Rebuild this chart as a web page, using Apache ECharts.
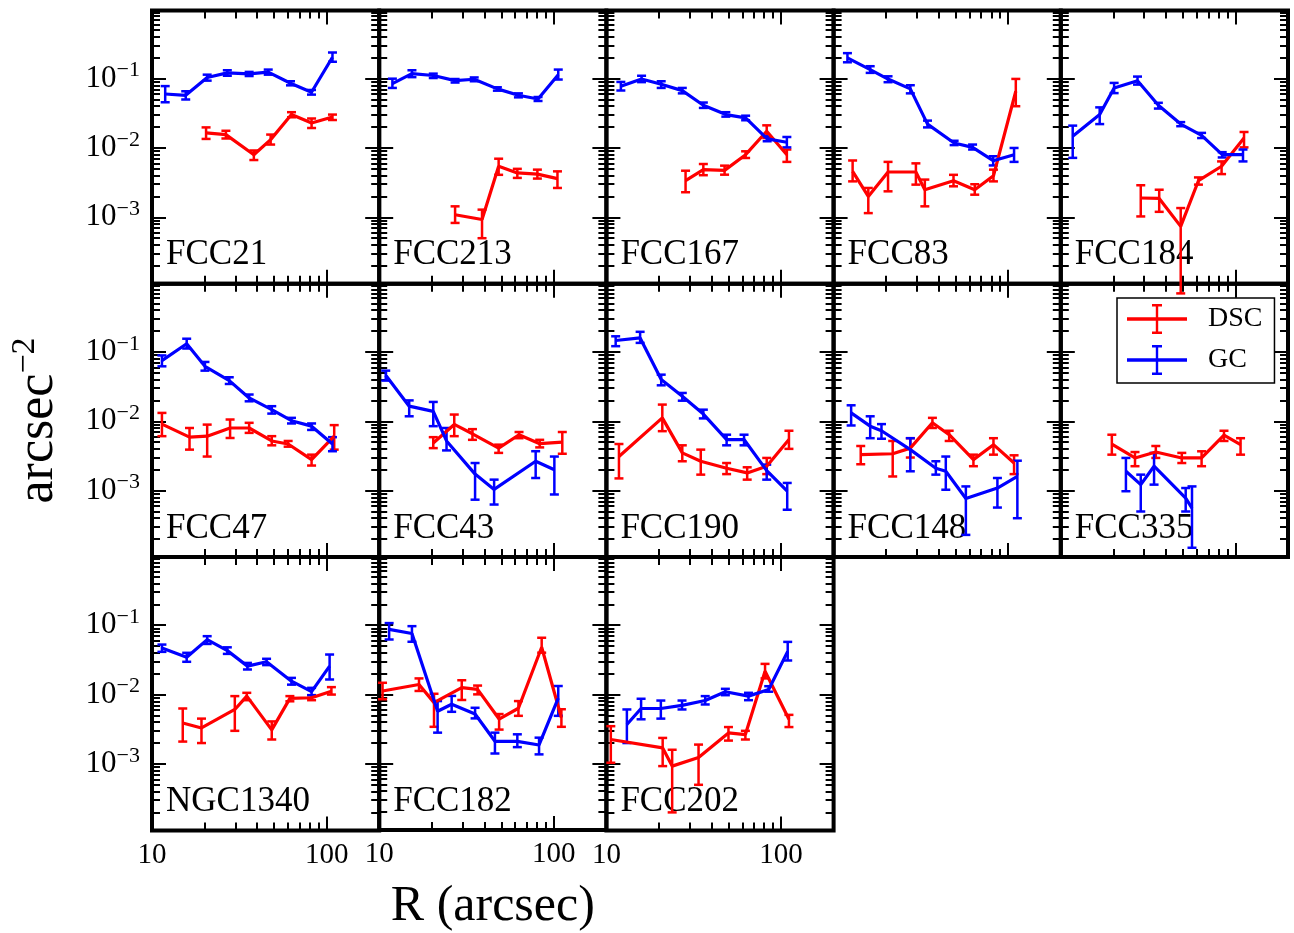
<!DOCTYPE html>
<html>
<head>
<meta charset="utf-8">
<script src="https://cdn.jsdelivr.net/npm/echarts@6/dist/echarts.min.js"></script>
<style>
html, body { margin: 0; padding: 0; background: #fff; }
#chart { width: 1294px; height: 933px; }
</style>
</head>
<body>
<div id="chart"></div>
<script>
// each row: [R (arcsec), value, lower end of error bar, upper end of error bar]
const FCC21_DSC = [[20.4,0.0165,0.0135,0.0198],[26.5,0.0156,0.0137,0.0177],[38.3,0.0080,0.0067,0.0092],[47.8,0.0132,0.0112,0.0156],[62.9,0.0303,0.0277,0.0328],[82,0.0229,0.0194,0.0266],[108,0.028,0.0253,0.0303]];
const FCC21_GC = [[11.9,0.060,0.0456,0.078],[15.6,0.0575,0.050,0.0657],[20.7,0.104,0.0935,0.114],[27.0,0.121,0.110,0.132],[36.0,0.117,0.109,0.125],[46.3,0.124,0.114,0.135],[62.1,0.0857,0.080,0.0916],[81.9,0.0637,0.0588,0.0686],[108,0.203,0.175,0.238]];
const FCC213_DSC = [[27.2,0.00109,0.00083,0.00144],[38.8,0.00093,0.00050,0.00129],[48.3,0.00545,0.0041,0.0070],[61.8,0.00436,0.0037,0.005],[80.5,0.0042,0.00362,0.00487],[104.9,0.00362,0.00265,0.0046]];
const FCC213_GC = [[11.9,0.0846,0.0734,0.0998],[15.4,0.118,0.105,0.132],[20.4,0.111,0.102,0.118],[27.2,0.0935,0.0878,0.0987],[35,0.098,0.0916,0.104],[47.5,0.0711,0.067,0.075],[62.7,0.0575,0.0537,0.0613],[81.2,0.0509,0.0476,0.0543],[106,0.114,0.097,0.135]];
const FCC167_DSC = [[28.4,0.00337,0.0023,0.0047],[35.9,0.00486,0.00405,0.00587],[47.5,0.00475,0.00412,0.00556],[62.7,0.0080,0.00717,0.00895],[82.8,0.0174,0.0139,0.0212],[108,0.0080,0.0063,0.0095]];
const FCC167_GC = [[12.1,0.0776,0.0674,0.0896],[15.9,0.0986,0.089,0.110],[20.6,0.083,0.0734,0.0916],[27.2,0.0671,0.0613,0.0734],[35.9,0.0413,0.0378,0.0452],[48.3,0.0303,0.0283,0.0328],[62.7,0.0271,0.0251,0.0292],[83.3,0.0135,0.0125,0.0147],[108,0.0121,0.0102,0.0144]];
const FCC83_DSC = [[12.85,0.0046,0.0033,0.0066],[15.8,0.0020,0.00115,0.00265],[20.5,0.0045,0.00237,0.0063],[29.6,0.0045,0.00296,0.006],[33.3,0.0025,0.00144,0.0035],[48.6,0.00337,0.0028,0.0041],[64.3,0.0025,0.00212,0.003],[82.3,0.00397,0.0033,0.00487],[110.5,0.0657,0.040,0.099]];
const FCC83_GC = [[12.0,0.199,0.172,0.233],[16.2,0.135,0.121,0.151],[20.5,0.0986,0.0888,0.108],[27.5,0.0711,0.0613,0.0803],[34.5,0.0221,0.0198,0.0248],[49,0.0118,0.011,0.0127],[62.5,0.0102,0.0095,0.0112],[82,0.00655,0.0056,0.0076],[108,0.0080,0.0063,0.010]];
const FCC184_DSC = [[28.7,0.0019,0.00103,0.0029],[36.6,0.00187,0.0012,0.0025],[48.6,0.00074,0.00008,0.00136],[61.4,0.00337,0.00296,0.00376],[83.3,0.00545,0.0042,0.0064],[112,0.0139,0.0102,0.0170]];
const FCC184_GC = [[11.7,0.0147,0.0072,0.021],[16.7,0.0303,0.0221,0.0385],[20.2,0.0734,0.0618,0.0867],[27.5,0.0934,0.082,0.107],[36.2,0.0413,0.037,0.0448],[48.6,0.0221,0.0206,0.0236],[64,0.0152,0.0139,0.0165],[84,0.0080,0.0073,0.0087],[110.5,0.0080,0.0064,0.0095]];
const FCC47_DSC = [[11.4,0.0091,0.0061,0.0132],[16.4,0.0059,0.0039,0.0080],[20.7,0.0061,0.0031,0.00895],[28,0.0080,0.00574,0.0106],[36,0.0080,0.0068,0.0095],[48.5,0.0052,0.0045,0.0061],[60.2,0.0047,0.0043,0.0052],[82,0.0028,0.0023,0.0033],[110.5,0.0061,0.0039,0.0088]];
const FCC47_GC = [[11.4,0.075,0.062,0.089],[15.8,0.131,0.112,0.155],[20.1,0.062,0.0537,0.0717],[27.7,0.0386,0.0345,0.0431],[36,0.0217,0.0194,0.0243],[48.5,0.0147,0.0129,0.0165],[62.9,0.0102,0.0093,0.0112],[82,0.0085,0.0075,0.0093],[108,0.0047,0.0037,0.0059]];
const FCC43_DSC = [[20.4,0.00486,0.0041,0.0059],[26.9,0.0090,0.0061,0.0125],[34.2,0.0066,0.0054,0.0077],[48.3,0.0041,0.0035,0.0046],[63.2,0.0064,0.0057,0.0070],[83,0.00475,0.0042,0.0054],[111.8,0.005,0.0034,0.0070]];
const FCC43_GC = [[10.9,0.046,0.0386,0.0537],[14.85,0.0165,0.0118,0.020],[20.4,0.0139,0.0085,0.019],[24.3,0.0052,0.0038,0.0080],[35.4,0.00173,0.00074,0.0025],[45.5,0.00104,0.00063,0.00144],[78.7,0.00265,0.00152,0.0037],[100.7,0.0020,0.00088,0.0031]];
const FCC190_DSC = [[11.8,0.0031,0.0015,0.0047],[20.9,0.0112,0.0072,0.0174],[27.2,0.0035,0.00265,0.0045],[34.7,0.00265,0.0017,0.0039],[48.8,0.0021,0.00173,0.0025],[64,0.0018,0.00144,0.00217],[82.8,0.00225,0.00173,0.00296],[111,0.00545,0.0040,0.0073]];
const FCC190_GC = [[11.3,0.146,0.121,0.168],[15.6,0.159,0.135,0.195],[20.6,0.040,0.033,0.047],[27.2,0.023,0.0198,0.0256],[35.9,0.0127,0.011,0.0147],[48.8,0.00545,0.0045,0.0064],[61.4,0.00545,0.0045,0.0064],[82.8,0.00194,0.00144,0.00237],[108.5,0.00098,0.00053,0.00129]];
const FCC148_DSC = [[14.3,0.0033,0.0024,0.0044],[21.8,0.0034,0.0016,0.0052],[27.5,0.0041,0.0030,0.0057],[36.8,0.0095,0.0080,0.0112],[45.9,0.0064,0.0052,0.0073],[63.2,0.0028,0.00225,0.0033],[82.3,0.0046,0.0033,0.0057],[108,0.0025,0.00173,0.00323]];
const FCC148_GC = [[12.6,0.0132,0.0087,0.0170],[16.2,0.0085,0.0057,0.0118],[18.8,0.0073,0.0056,0.0091],[27.5,0.0039,0.0019,0.0057],[38.5,0.0021,0.0017,0.00265],[43.9,0.0019,0.00103,0.0031],[57.2,0.00077,0.00023,0.00115],[86.7,0.00109,0.00057,0.00152],[112.8,0.0016,0.0004,0.0027]];
const FCC335_DSC = [[19.6,0.0047,0.0033,0.0064],[26.6,0.00296,0.00225,0.0036],[35,0.0036,0.00296,0.0044],[49.3,0.00296,0.0025,0.0035],[64,0.00296,0.00225,0.00369],[86,0.0063,0.0052,0.0073],[107,0.0046,0.0033,0.0057]];
const FCC335_GC = [[23.6,0.0019,0.00098,0.00296],[28.7,0.00122,0.0005,0.0017],[34.2,0.00225,0.00122,0.0035],[51.9,0.00078,0.0005,0.00109],[56.4,0.00056,0.00015,0.00115]];
const NGC1340_DSC = [[15,0.0039,0.0021,0.0063],[19.2,0.0033,0.0020,0.0045],[29.8,0.0061,0.0030,0.0095],[34.9,0.0095,0.0083,0.0106],[48.5,0.0031,0.00225,0.0041],[61.6,0.0088,0.0080,0.0095],[82,0.0090,0.0083,0.0098],[106.5,0.0112,0.010,0.0128]];
const NGC1340_GC = [[11.4,0.047,0.0413,0.0526],[15.8,0.0345,0.0297,0.040],[20.7,0.062,0.0537,0.0695],[27,0.043,0.0386,0.048],[35.2,0.0257,0.023,0.0286],[45.3,0.0297,0.0266,0.0328],[62.9,0.0156,0.0139,0.0174],[82,0.0110,0.0098,0.0125],[104,0.0257,0.0165,0.0378]];
const FCC182_DSC = [[10.45,0.0112,0.0085,0.0147],[16.9,0.0139,0.0112,0.0170],[20.6,0.0076,0.0034,0.0102],[29.7,0.0125,0.0083,0.016],[36.6,0.0118,0.010,0.0134],[48.6,0.0044,0.0031,0.0052],[62.7,0.0063,0.0049,0.008],[85.2,0.048,0.040,0.0657],[110.5,0.0046,0.0034,0.0061]];
const FCC182_GC = [[11.4,0.0868,0.062,0.107],[15.4,0.0758,0.0575,0.0966],[21.6,0.0057,0.0028,0.0080],[26,0.0072,0.0056,0.0095],[35.4,0.0052,0.0045,0.0064],[46,0.0021,0.0014,0.0028],[61.8,0.0021,0.00173,0.00265],[82.3,0.00186,0.00136,0.00237],[106,0.0088,0.0049,0.0132]];
const FCC202_DSC = [[10.6,0.00225,0.00104,0.0035],[21,0.0017,0.00093,0.00237],[23.8,0.00093,0.00020,0.0016],[33.7,0.00124,0.00050,0.0019],[50,0.0028,0.00217,0.0034],[62.5,0.00265,0.00225,0.003],[81,0.0217,0.0171,0.0277],[111,0.0044,0.0034,0.0051]];
const FCC202_GC = [[13.1,0.0037,0.0020,0.0061],[15.8,0.0063,0.0044,0.0087],[20.5,0.0063,0.0045,0.0082],[27.1,0.0070,0.0061,0.0082],[36.8,0.0082,0.0072,0.0095],[48,0.0110,0.0098,0.0121],[65.1,0.0095,0.0083,0.0106],[85,0.0118,0.0110,0.0132],[109.2,0.042,0.031,0.0575]];

const panels = [
    ['FCC21', FCC21_DSC, FCC21_GC], ['FCC213', FCC213_DSC, FCC213_GC], ['FCC167', FCC167_DSC, FCC167_GC],
    ['FCC83', FCC83_DSC, FCC83_GC], ['FCC184', FCC184_DSC, FCC184_GC],
    ['FCC47', FCC47_DSC, FCC47_GC], ['FCC43', FCC43_DSC, FCC43_GC], ['FCC190', FCC190_DSC, FCC190_GC],
    ['FCC148', FCC148_DSC, FCC148_GC], ['FCC335', FCC335_DSC, FCC335_GC],
    ['NGC1340', NGC1340_DSC, NGC1340_GC], ['FCC182', FCC182_DSC, FCC182_GC], ['FCC202', FCC202_DSC, FCC202_GC]
];

// tick values
const xMajorTicks = [10, 100];
const xMinorTicks = [20, 30, 40, 50, 60, 70, 80, 90, 200];
const yMajorTicks = [1e-1, 1e-2, 1e-3];
const yMinorTicks = [2e-4, 3e-4, 4e-4, 5e-4, 6e-4, 7e-4, 8e-4, 9e-4,
    2e-3, 3e-3, 4e-3, 5e-3, 6e-3, 7e-3, 8e-3, 9e-3,
    2e-2, 3e-2, 4e-2, 5e-2, 6e-2, 7e-2, 8e-2, 9e-2,
    2e-1, 3e-1, 4e-1, 5e-1, 6e-1, 7e-1, 8e-1, 9e-1];

const X_MIN = 10, X_MAX = 200;
const Y_MIN = 1.1e-4, Y_MAX = 0.96;

const RED = '#ff0000', BLUE = '#0000ff';
const SERIF = '"Liberation Serif", "DejaVu Serif", serif';

// panel layout
const GRID_LEFT = 152, GRID_TOP = 10.5, GRID_W = 227.2, GRID_H = 273.3;

const chart = echarts.init(document.getElementById('chart'), null, { renderer: 'canvas' });

function sup(v) {
    const e = Math.round(Math.log10(v));
    return '{b|10}{s|\u2212' + Math.abs(e) + '}';
}

function makeAxis(dim, gridIndex, position, ticks, len, showLabel) {
    const ax = {
        type: 'log',
        logBase: 10,
        gridIndex: gridIndex,
        position: position,
        min: dim === 'x' ? X_MIN : Y_MIN,
        max: dim === 'x' ? X_MAX : Y_MAX,
        axisLine: { show: true, onZero: false, lineStyle: { color: '#000', width: 1 } },
        splitLine: { show: false },
        minorTick: { show: false },
        axisTick: {
            show: true, inside: true, length: len, customValues: ticks,
            lineStyle: { color: '#000', width: 2 }
        },
        axisLabel: { show: false }
    };
    if (showLabel) {
        if (dim === 'x') {
            ax.axisLabel = {
                show: true, customValues: ticks, margin: 10,
                fontFamily: SERIF, fontSize: 29, color: '#000'
            };
        } else {
            ax.axisLabel = {
                show: true, customValues: ticks, margin: 12,
                formatter: sup,
                rich: {
                    b: { fontFamily: SERIF, fontSize: 31, color: '#000' },
                    s: { fontFamily: SERIF, fontSize: 22, color: '#000', padding: [0, 0, 16, 0] }
                }
            };
        }
    }
    return ax;
}

function errorBars(params, api) {
    const x = api.value(0);
    const top = api.coord([x, api.value(3)]);
    const bot = api.coord([x, api.value(2)]);
    const cap = 4.5;
    const style = { stroke: api.visual('color'), lineWidth: 2.5 };
    return {
        type: 'group',
        children: [
            { type: 'line', shape: { x1: top[0], y1: top[1], x2: bot[0], y2: bot[1] }, style: style },
            { type: 'line', shape: { x1: top[0] - cap, y1: top[1], x2: top[0] + cap, y2: top[1] }, style: style },
            { type: 'line', shape: { x1: bot[0] - cap, y1: bot[1], x2: bot[0] + cap, y2: bot[1] }, style: style }
        ]
    };
}

const grid = [], xAxis = [], yAxis = [], series = [], graphic = [];

panels.forEach(function (p, i) {
    const col = i % 5, row = Math.floor(i / 5);
    const left = GRID_LEFT + col * GRID_W;
    const top = GRID_TOP + row * GRID_H;
    grid.push({
        left: left, top: top, width: GRID_W, height: GRID_H,
        show: true, borderColor: '#000', borderWidth: 4, backgroundColor: 'transparent'
    });
    const xi = xAxis.length, yi = yAxis.length;
    xAxis.push(makeAxis('x', i, 'bottom', xMajorTicks, 14, row === 2));
    xAxis.push(makeAxis('x', i, 'bottom', xMinorTicks, 8, false));
    xAxis.push(makeAxis('x', i, 'top', xMajorTicks, 14, false));
    xAxis.push(makeAxis('x', i, 'top', xMinorTicks, 8, false));
    yAxis.push(makeAxis('y', i, 'left', yMajorTicks, 14, col === 0));
    yAxis.push(makeAxis('y', i, 'left', yMinorTicks, 8, false));
    yAxis.push(makeAxis('y', i, 'right', yMajorTicks, 14, false));
    yAxis.push(makeAxis('y', i, 'right', yMinorTicks, 8, false));

    if (i === 5) {
        yAxis[yi].name = '{a|arcsec}{s|\u22122}';
        yAxis[yi].nameLocation = 'middle';
        yAxis[yi].nameGap = 84;
        yAxis[yi].nameTextStyle = {
            rich: {
                a: { fontFamily: SERIF, fontSize: 52, color: '#000' },
                s: { fontFamily: SERIF, fontSize: 34, color: '#000', padding: [0, 0, 26, 0] }
            }
        };
    }
    if (i === 11) {
        xAxis[xi].name = 'R (arcsec)';
        xAxis[xi].nameLocation = 'middle';
        xAxis[xi].nameGap = 52;
        xAxis[xi].nameTextStyle = { fontFamily: SERIF, fontSize: 50, color: '#000' };
    }

    [[p[1], 'DSC', RED], [p[2], 'GC', BLUE]].forEach(function (s) {
        series.push({
            name: s[1] + ' line',
            type: 'line',
            xAxisIndex: xi, yAxisIndex: yi,
            data: s[0].map(function (d) { return [d[0], d[1]]; }),
            symbol: 'none',
            lineStyle: { color: s[2], width: 3.2 },
            itemStyle: { color: s[2] },
            z: 3
        });
        series.push({
            name: s[1],
            type: 'custom',
            xAxisIndex: xi, yAxisIndex: yi,
            data: s[0],
            dimensions: ['r', 'v', 'lo', 'hi'],
            encode: { x: 'r', y: 'v' },
            renderItem: errorBars,
            itemStyle: { color: s[2] },
            z: 3
        });
    });

    graphic.push({
        type: 'text',
        left: left + 14,
        top: top + GRID_H - 46,
        z: 1,
        style: { text: p[0], font: '35px ' + SERIF, fill: '#000' }
    });
});

const ERR_ICON = 'path://M0,13.3h60v3.4H0z M28.8,0h2.4v30h-2.4z M25,0h10v2.4H25z M25,27.6h10v2.4H25z';

chart.setOption({
    animation: false,
    backgroundColor: '#fff',
    grid: grid,
    xAxis: xAxis,
    yAxis: yAxis,
    series: series,
    graphic: graphic,
    legend: {
        data: [
            { name: 'DSC', icon: ERR_ICON, itemStyle: { color: RED } },
            { name: 'GC', icon: ERR_ICON, itemStyle: { color: BLUE } }
        ],
        orient: 'vertical',
        left: 1117, top: 298,
        padding: [6, 12, 8, 10],
        itemWidth: 60, itemHeight: 30, itemGap: 11,
        backgroundColor: '#fff',
        borderColor: '#000', borderWidth: 1.5, borderRadius: 0,
        textStyle: { fontFamily: SERIF, fontSize: 28, color: '#000', padding: [0, 0, 0, 16] }
    }
});
</script>
</body>
</html>
